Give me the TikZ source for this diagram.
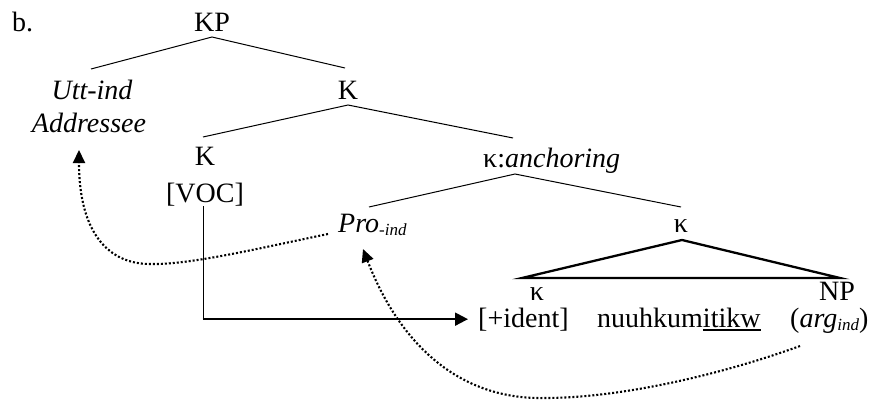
\documentclass[tikz,border=0pt]{standalone}
\usepackage{fontspec}
\setmainfont{Liberation Serif}
\usetikzlibrary{arrows.meta}
% underline drawn as a rule of fixed thickness
\newcommand\ulword[1]{\setbox0\hbox{#1}\rlap{\rule[-3.6pt]{\wd0}{1.5pt}}\box0}
% small lowered italic subscript
\newcommand\lowsub[1]{\raisebox{-3pt}{\fontsize{17pt}{17pt}\selectfont\itshape #1}}
\begin{document}
\fontsize{28pt}{33pt}\selectfont
\begin{tikzpicture}[x=1pt,y=-1pt,
  lbl/.style={inner sep=0pt, anchor=base},
  lblw/.style={inner sep=0pt, anchor=base west},
  branch/.style={line width=1pt},
  rooftri/.style={line width=2.3pt, line join=miter},
  vline/.style={line width=1pt},
  hline/.style={line width=2pt, -{Triangle[length=13pt,width=13pt]}},
  dotlink/.style={line width=2.1pt, dash pattern=on 2pt off 2pt,
    -{Triangle[length=13pt,width=12pt]}},
]
\useasboundingbox (0,0) rectangle (879,402);

% labels
\node[lblw] (b) at (12,31) {b.};
\node[lbl] (kp) at (212,31) {KP};
\node[lbl] (utt) at (92,99) {\itshape Utt-ind};
\node[lbl] (addr) at (89,132) {\itshape Addressee};
\node[lbl] (k2) at (348,99) {K};
\node[lbl] (k3) at (205,165) {K};
\node[lbl] (voc) at (205,202) {[VOC]};
\node[lblw] (kan) at (483,167) {κ:\textit{anchoring}};
\node[lblw] (pro) at (338,232) {\textit{Pro}\lowsub{-ind}};
\node[lbl] (kap) at (681,232) {κ};
\node[lbl] (ksm) at (537,300) {κ};
\node[lbl] (np) at (837,300) {NP};
\node[lblw] (ident) at (478,327) {[+ident]};
\node[lblw] (word) at (597,327) {nuuhkum\ulword{itikw}};
\node[lblw] (arg) at (790,327) {(\textit{arg}\lowsub{ind})};

% tree branches
\draw[branch] ([xshift=-1pt,yshift=30pt]utt.base) -- ([yshift=-6pt]kp.base)
  -- ([xshift=-3pt,yshift=31pt]k2.base);
\draw[branch] ([xshift=-2pt,yshift=28pt]k3.base) -- ([yshift=-6pt]k2.base)
  -- ([xshift=30pt,yshift=29pt]kan.base west);
\draw[branch] ([xshift=31pt,yshift=25pt]pro.base west) -- ([xshift=32pt,yshift=-7pt]kan.base west)
  -- ([yshift=25pt]kap.base);

% roof over the lowest constituent
\draw[rooftri] ([xshift=-15pt,yshift=22pt]ksm.base) -- ([xshift=1pt,yshift=-8pt]kap.base)
  -- ([xshift=3pt,yshift=22pt]np.base) -- cycle;

% [VOC] links to [+ident]
\draw[vline] ([xshift=-2pt,yshift=-4pt]voc.base) coordinate (v0) -- (v0 |- ident.west) coordinate (corner);
\draw[hline] ([xshift=-0.5pt]corner) -- ([xshift=-10pt]ident.west);

% dotted links
\coordinate (dipA) at (150,264);
\draw[dotlink] ([xshift=-10pt,yshift=-2pt]pro.base west)
  .. controls +(-68,14) and +(40,1) .. (dipA)
  .. controls +(-40,0) and +(0,85) .. ([xshift=-10pt,yshift=-18pt]addr.base);

\coordinate (dipB) at (545,398);
\draw[dotlink] ([xshift=10pt,yshift=-19pt]arg.base west)
  .. controls +(-80,29) and +(75,0) .. (dipB)
  .. controls +(-85,2) and +(37,96) .. ([xshift=25pt,yshift=-17pt]pro.base west);
\end{tikzpicture}
\end{document}
